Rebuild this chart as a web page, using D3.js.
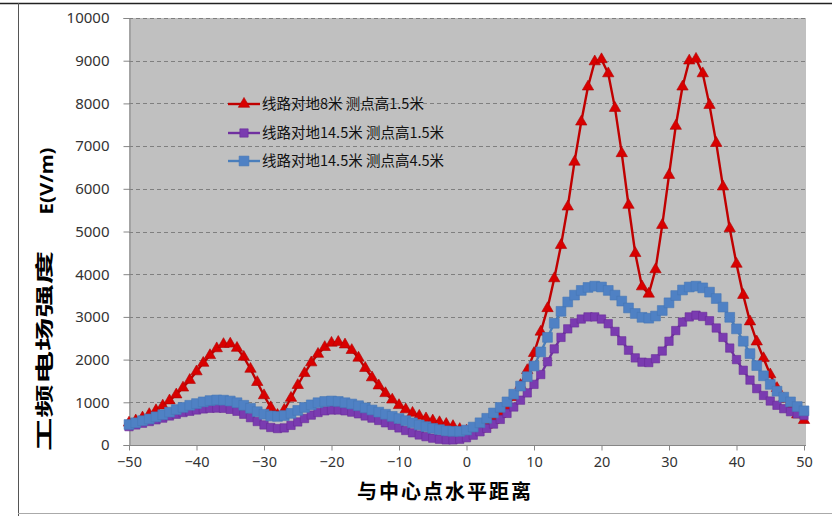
<!DOCTYPE html>
<html><head><meta charset="utf-8">
<script src="https://cdn.jsdelivr.net/npm/d3@7"></script>
<style>html,body{margin:0;padding:0;background:#fff;}svg{display:block;}</style>
</head><body>
<svg id="c" width="832" height="516"></svg>
<script>
const xValues = d3.range(-50, 51, 1);
const seriesNames = ["线路对地8米 测点高1.5米", "线路对地14.5米 测点高1.5米", "线路对地14.5米 测点高4.5米"];
const redValues = [520,570,640,720,810,920,1040,1180,1340,1520,1720,1920,2100,2260,2360,2370,2270,2060,1780,1470,1160,880,700,820,1100,1400,1680,1930,2130,2290,2390,2410,2350,2220,2040,1800,1580,1390,1210,1060,930,830,750,680,620,570,530,490,440,370,330,330,380,470,580,720,900,1120,1400,1750,2150,2650,3200,3900,4680,5580,6630,7570,8390,8980,9030,8700,7890,6830,5620,4490,3710,3540,4110,5150,6320,7470,8390,9000,9040,8700,7960,7070,6050,5070,4240,3510,2890,2420,2030,1650,1330,1080,870,710,580];
const purpleValues = [430,470,510,550,590,630,680,720,760,790,820,845,860,865,860,835,790,720,640,550,470,410,385,400,460,540,620,700,760,800,820,820,800,770,730,680,630,575,520,460,400,340,285,235,195,160,135,120,120,135,170,230,310,390,490,600,740,890,1050,1220,1420,1650,1950,2250,2520,2720,2860,2950,3000,3000,2950,2840,2660,2440,2220,2040,1940,1930,2020,2200,2430,2680,2880,3000,3040,3010,2910,2740,2520,2270,2000,1750,1520,1320,1160,1030,930,850,780,730,690];
const blueValues = [480,520,570,610,660,710,770,830,880,930,970,1010,1040,1055,1050,1030,990,930,860,780,720,680,670,690,740,810,880,940,990,1020,1030,1020,990,960,920,870,820,770,720,670,620,570,520,470,430,390,360,330,320,320,350,420,520,625,750,880,1010,1190,1380,1600,1850,2180,2520,2850,3130,3350,3510,3620,3690,3720,3700,3620,3510,3370,3210,3080,2990,2970,3020,3150,3330,3500,3630,3700,3720,3680,3580,3430,3230,2990,2720,2430,2140,1860,1620,1420,1260,1120,1010,900,800];
const yTicks = [0,1000,2000,3000,4000,5000,6000,7000,8000,9000,10000];
const xTicks = [-50,-40,-30,-20,-10,0,10,20,30,40,50];
const xTitle = "与中心点水平距离";
const yTitleMain = "工频电场强度";
const yTitleUnit = "E(V/m)";

const svg = d3.select("#c");
// outer frame
svg.append("line").attr("x1",0).attr("x2",832).attr("y1",3.5).attr("y2",3.5).attr("stroke","#222").attr("stroke-width",1.5);
svg.append("line").attr("x1",18.5).attr("x2",18.5).attr("y1",3).attr("y2",516).attr("stroke","#555").attr("stroke-width",1);
svg.append("line").attr("x1",18).attr("x2",832).attr("y1",513.5).attr("y2",513.5).attr("stroke","#aaa").attr("stroke-width",1);

const L = 129, R = 806, T = 18, B = 445;
const x = d3.scaleLinear().domain([-50,50]).range([L, 804]);
const y = d3.scaleLinear().domain([0,10000]).range([B, T]);

svg.append("rect").attr("x",L).attr("y",T).attr("width",R-L).attr("height",B-T).attr("fill","#c0c0c0");

// grid
svg.append("g").selectAll("line").data(yTicks.filter(d=>d>0)).join("line")
  .attr("x1",L).attr("x2",R).attr("y1",d=>Math.round(y(d))+0.5).attr("y2",d=>Math.round(y(d))+0.5)
  .attr("stroke","#7f7f7f").attr("stroke-width",1).attr("stroke-dasharray","4,3");

// axes
const yAxis = d3.axisLeft(y).tickValues(yTicks).tickSize(6).tickPadding(14).tickFormat(d3.format("d"));
const gy = svg.append("g").attr("transform",`translate(${L+0.5},0)`).call(yAxis);
gy.select(".domain").attr("stroke","#868686");
gy.selectAll(".tick line").attr("stroke","#868686");
gy.selectAll("text").attr("font-family","'Noto Sans', sans-serif").attr("font-size","15px").attr("fill","#333");

const xAxis = d3.axisBottom(x).tickValues(xTicks).tickSize(5).tickPadding(6).tickFormat(d3.format("d"));
const gx = svg.append("g").attr("transform",`translate(0,${B+0.5})`).call(xAxis);
gx.select(".domain").attr("stroke","#868686").attr("d",`M${L},0H${R}`);
gx.selectAll(".tick line").attr("stroke","#868686");
gx.selectAll("text").attr("font-family","'Noto Sans', sans-serif").attr("font-size","14.5px").attr("fill","#333");

// series
const series = [
  {name: seriesNames[0], vals: redValues, line:"#c00000", fill:"#d80000", stroke:"#b00000", sym:d3.symbolTriangle, size:56},
  {name: seriesNames[1], vals: purpleValues, line:"#7030a0", fill:"#7a3bb0", stroke:"#6a2c98", sym:d3.symbolSquare, size:70},
  {name: seriesNames[2], vals: blueValues, line:"#4a7ebb", fill:"#4f81c4", stroke:"#4677b5", sym:d3.symbolSquare, size:96}
];
const lineGen = d3.line().x((d,i)=>x(xValues[i])).y(d=>y(d));
series.forEach(s=>{
  const g = svg.append("g");
  g.append("path").attr("d", lineGen(s.vals)).attr("fill","none").attr("stroke",s.line).attr("stroke-width",2.4);
  g.selectAll("path.m").data(s.vals).join("path").attr("class","m")
    .attr("transform",(d,i)=>`translate(${x(xValues[i])},${y(d)})`)
    .attr("d", d3.symbol().type(s.sym).size(s.size)())
    .attr("fill",s.fill).attr("stroke",s.stroke).attr("stroke-width",0.6);
});

// legend
const legY = [104, 133, 161];
series.forEach((s,i)=>{
  const g = svg.append("g").attr("transform",`translate(0,${legY[i]})`);
  g.append("line").attr("x1",228).attr("x2",260).attr("y1",0).attr("y2",0).attr("stroke",s.line).attr("stroke-width",2.4);
  g.append("path").attr("transform","translate(244,0)").attr("d", d3.symbol().type(s.sym).size(s.size)())
    .attr("fill",s.fill).attr("stroke",s.stroke).attr("stroke-width",0.6);
  g.append("text").attr("x",262).attr("y",0).attr("dy","0.36em").text(s.name)
    .attr("font-family","'Noto Sans CJK SC', sans-serif").attr("font-size","14.5px").attr("fill","#111");
});

// x title
svg.append("text").attr("x",445).attr("y",492).attr("dy","0.36em").attr("text-anchor","middle")
  .attr("font-family","'Noto Sans CJK SC', sans-serif").attr("font-size","20px").attr("font-weight","bold")
  .attr("letter-spacing","2px").attr("fill","#000").text(xTitle);

// y title
svg.append("text").attr("transform","translate(44,351) rotate(-90) scale(1.45,0.8)").attr("text-anchor","middle").attr("dy","0.36em")
  .attr("font-family","'Noto Sans CJK SC', sans-serif").attr("font-size","23px").attr("font-weight","bold").attr("fill","#000").text(yTitleMain);
svg.append("text").attr("transform","translate(47,181) rotate(-90) scale(1.2,1)").attr("text-anchor","middle").attr("dy","0.36em")
  .attr("font-family","'Noto Sans', sans-serif").attr("font-size","17px").attr("font-weight","bold").attr("fill","#000").text(yTitleUnit);
</script>
</body></html>
